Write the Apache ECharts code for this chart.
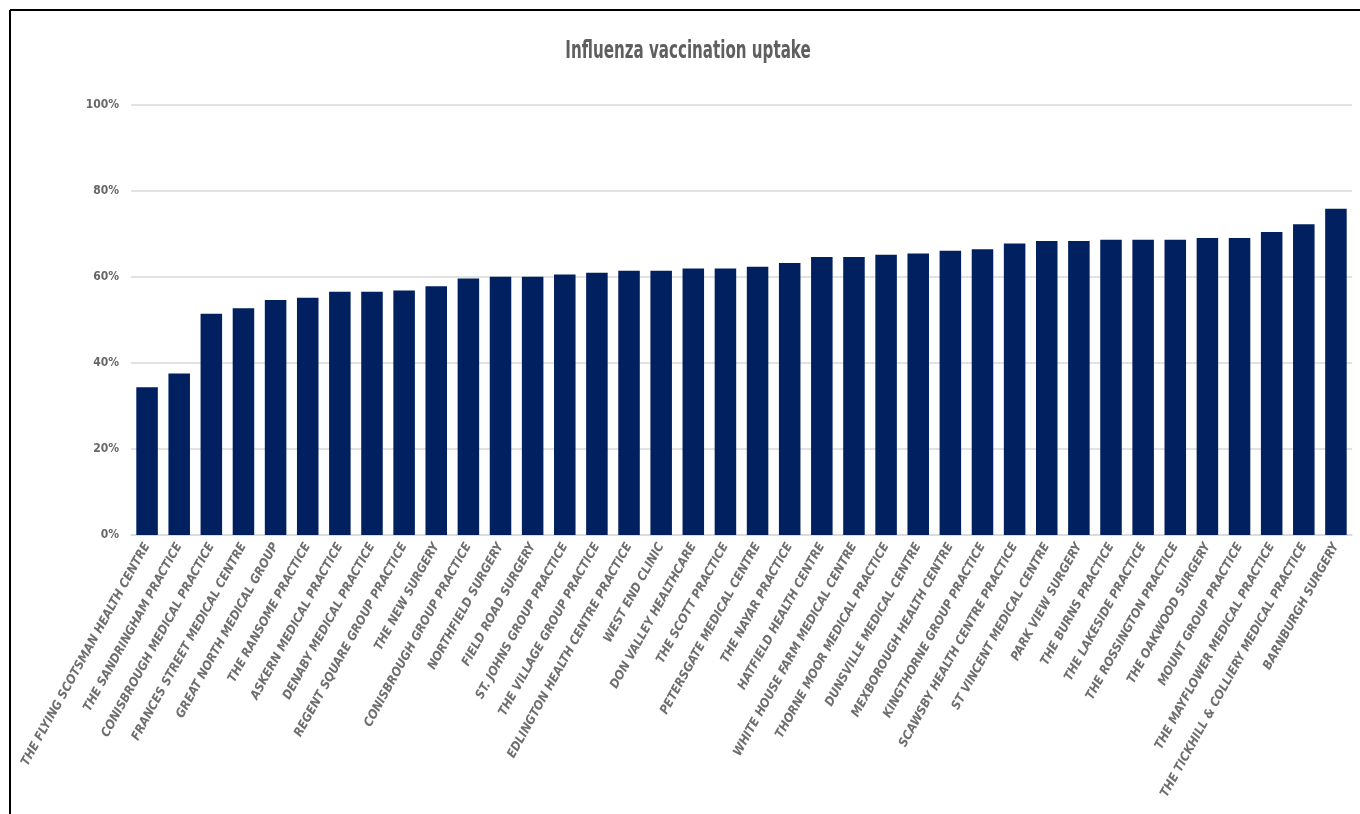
<!DOCTYPE html>
<html>
<head>
<meta charset="utf-8">
<script src="https://cdn.jsdelivr.net/npm/echarts@6/dist/echarts.min.js"></script>
<style>
html,body{margin:0;padding:0;background:#fff;}
#chart{width:1360px;height:814px;}
</style>
</head>
<body>
<div id="chart"></div>
<script>
const categories = [
  "THE FLYING SCOTSMAN HEALTH CENTRE","THE SANDRINGHAM PRACTICE","CONISBROUGH MEDICAL PRACTICE",
  "FRANCES STREET MEDICAL CENTRE","GREAT NORTH MEDICAL GROUP","THE RANSOME PRACTICE",
  "ASKERN MEDICAL PRACTICE","DENABY MEDICAL PRACTICE","REGENT SQUARE GROUP PRACTICE",
  "THE NEW SURGERY","CONISBROUGH GROUP PRACTICE","NORTHFIELD SURGERY","FIELD ROAD SURGERY",
  "ST. JOHNS GROUP PRACTICE","THE VILLAGE GROUP PRACTICE","EDLINGTON HEALTH CENTRE PRACTICE",
  "WEST END CLINIC","DON VALLEY HEALTHCARE","THE SCOTT PRACTICE","PETERSGATE MEDICAL CENTRE",
  "THE NAYAR PRACTICE","HATFIELD HEALTH CENTRE","WHITE HOUSE FARM MEDICAL CENTRE",
  "THORNE MOOR MEDICAL PRACTICE","DUNSVILLE MEDICAL CENTRE","MEXBOROUGH HEALTH CENTRE",
  "KINGTHORNE GROUP PRACTICE","SCAWSBY HEALTH CENTRE PRACTICE","ST VINCENT MEDICAL CENTRE",
  "PARK VIEW SURGERY","THE BURNS PRACTICE","THE LAKESIDE PRACTICE","THE ROSSINGTON PRACTICE",
  "THE OAKWOOD SURGERY","MOUNT GROUP PRACTICE","THE MAYFLOWER MEDICAL PRACTICE",
  "THE TICKHILL & COLLIERY MEDICAL PRACTICE","BARNBURGH SURGERY"
];
const uptake = [
  34.3, 37.5, 51.4, 52.7, 54.6, 55.1, 56.5, 56.5, 56.8, 57.8,
  59.6, 60.0, 60.0, 60.5, 60.9, 61.4, 61.4, 61.9, 61.9, 62.3,
  63.2, 64.6, 64.6, 65.1, 65.4, 66.0, 66.4, 67.7, 68.3, 68.3,
  68.6, 68.6, 68.6, 69.0, 69.0, 70.4, 72.2, 75.8
];
const yTicks = [0, 20, 40, 60, 80, 100];
const titleText = "Influenza vaccination uptake";

const chart = echarts.init(document.getElementById('chart'));
const font = '"DejaVu Sans Condensed", "Open Sans", sans-serif';
chart.setOption({
  animation: false,
  backgroundColor: '#fff',
  graphic: [
    { type: 'line', shape: { x1: 10, y1: 10, x2: 1360, y2: 10 }, style: { stroke: '#000', lineWidth: 2 } },
    { type: 'line', shape: { x1: 10, y1: 10, x2: 10, y2: 814 }, style: { stroke: '#000', lineWidth: 2 } },
    {
      type: 'text', x: 688, y: 52, scaleX: 0.7,
      style: {
        text: titleText, x: 0, y: 0, textAlign: 'center', textVerticalAlign: 'middle',
        font: 'bold 24px ' + font, fill: '#5f5f5f'
      }
    }
  ],
  grid: { left: 131, right: 8, top: 104.5, bottom: 279, containLabel: false },
  xAxis: {
    type: 'category',
    data: categories,
    axisLine: { show: true, lineStyle: { color: '#d9d9d9', width: 1.5 } },
    axisTick: { show: false },
    axisLabel: {
      interval: 0, rotate: 61, margin: 9,
      fontFamily: font, fontSize: 12.5, fontStyle: 'italic', fontWeight: 'bold', color: '#6e6e6e'
    }
  },
  yAxis: {
    type: 'value',
    min: yTicks[0], max: yTicks[yTicks.length - 1], interval: 20,
    axisLine: { show: false },
    axisTick: { show: false },
    splitLine: { lineStyle: { color: '#d9d9d9', width: 1.5 } },
    axisLabel: {
      formatter: v => v + '%', margin: 12,
      fontFamily: font, fontSize: 12, fontWeight: 'bold', color: '#666666'
    }
  },
  series: [{
    type: 'bar',
    data: uptake,
    barCategoryGap: '33%',
    itemStyle: { color: '#002060' }
  }]
});
</script>
</body>
</html>
